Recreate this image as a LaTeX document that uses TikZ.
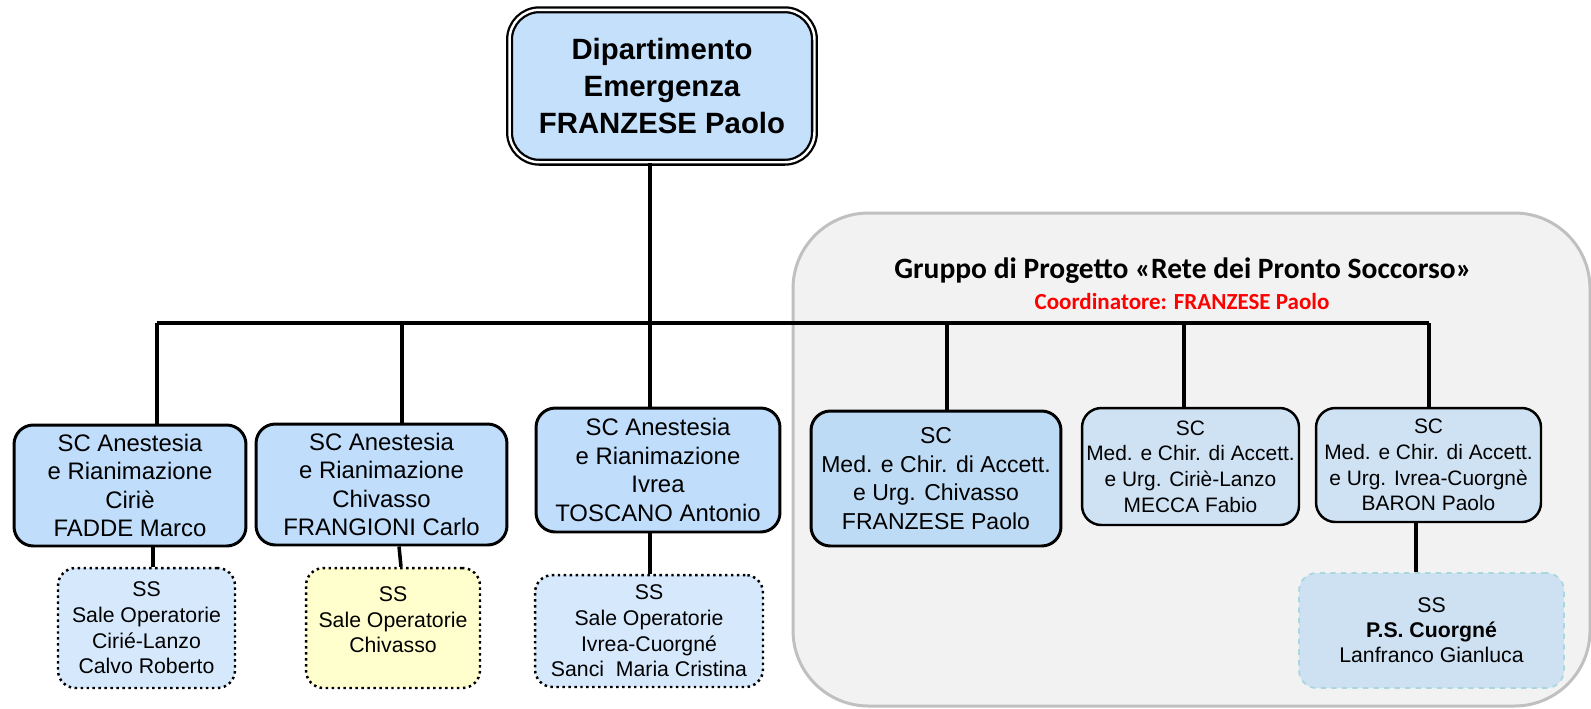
\documentclass[tikz,border=0pt]{standalone}
\usepackage{fontspec}
\setmainfont{Liberation Sans}
\newfontfamily\calibri{Carlito}
\usepackage{tikz}
\usetikzlibrary{positioning}

\definecolor{topblue}{RGB}{197,224,251}
\definecolor{scblue}{RGB}{192,222,252}
\definecolor{franzblue}{RGB}{189,219,245}
\definecolor{medblue}{RGB}{207,226,243}
\definecolor{ssblue}{RGB}{214,233,252}
\definecolor{ssyellow}{RGB}{255,255,206}
\definecolor{psblue}{RGB}{205,225,243}
\definecolor{psedge}{RGB}{168,216,220}
\definecolor{panelgrey}{RGB}{242,242,242}
\definecolor{paneledge}{RGB}{192,192,192}

\begin{document}
\begin{tikzpicture}[x=0.02cm,y=-0.02cm,
  conn/.style={line width=2pt},
  sc/.style={draw, line width=1.7pt, rounded corners=11pt, fill=scblue,
    align=center, inner sep=0pt, font=\fontsize{13.6}{16.2}\selectfont},
  med/.style={sc, line width=1.4pt, fill=medblue, font=\fontsize{11.9}{14.6}\selectfont},
  ss/.style={draw, dotted, line width=1.4pt, rounded corners=10pt, fill=ssblue,
    align=center, inner sep=0pt, font=\fontsize{12.1}{14.6}\selectfont}]

\useasboundingbox (0,0) rectangle (1591,708);

% group panel
\draw[line width=1.7pt, draw=paneledge, fill=panelgrey, rounded corners=43pt]
  (793,213) rectangle (1590,706);
\node (gruppo) at (1183,271) {\calibri\bfseries\fontsize{16.8}{19}\selectfont Gruppo di Progetto «Rete dei Pronto Soccorso»};
\node[text=red] (coord) at (1182,301) {\calibri\bfseries\fontsize{13.1}{15}\selectfont Coordinatore: FRANZESE Paolo};

% top
\node[draw, line width=1.3pt, double=white, double distance=1.4pt, rounded corners=17pt,
  fill=topblue, minimum width=6.1cm, minimum height=3.05cm, align=center,
  font=\fontsize{16.7}{21.3}\selectfont\bfseries] (dip) at (662,86)
  {Dipartimento\\Emergenza\\FRANZESE Paolo};

% SC
\node[sc, minimum width=4.64cm, minimum height=2.42cm] (cirie) at (130,485.5)
  {SC Anestesia\\e Rianimazione\\Ciriè\\FADDE Marco};
\node[sc, minimum width=5.02cm, minimum height=2.42cm] (chivasso) at (381.5,484.5)
  {SC Anestesia\\e Rianimazione\\Chivasso\\FRANGIONI Carlo};
\node[sc, minimum width=4.88cm, minimum height=2.48cm] (ivrea) at (658,470)
  {SC Anestesia\\e Rianimazione\\Ivrea\\TOSCANO Antonio};
\node[sc, fill=franzblue, minimum width=5cm, minimum height=2.7cm,
  font=\fontsize{13.1}{16.3}\selectfont] (franzese) at (936,478.5)
  {SC\\Med. e Chir. di Accett.\\e Urg. Chivasso\\FRANZESE Paolo};
\node[med, minimum width=4.34cm, minimum height=2.34cm] (mecca) at (1190.5,466.5)
  {SC\\Med. e Chir. di Accett.\\e Urg. Ciriè-Lanzo\\MECCA Fabio};
\node[med, minimum width=4.5cm, minimum height=2.28cm] (baron) at (1428.5,465)
  {SC\\Med. e Chir. di Accett.\\e Urg. Ivrea-Cuorgnè\\BARON Paolo};

% SS
\node[ss, minimum width=3.54cm, minimum height=2.4cm] (calvo) at (146.5,628)
  {SS\\Sale Operatorie\\Cirié-Lanzo\\Calvo Roberto};
\node[ss, fill=ssyellow, minimum width=3.48cm, minimum height=2.4cm] (chivss) at (393,628)
  {SS\\Sale Operatorie\\Chivasso\\[-5pt]~};
\node[ss, solid, dashed, line width=1pt, draw=psedge, fill=psblue,
  minimum width=5.3cm, minimum height=2.3cm, font=\fontsize{12.1}{14.2}\selectfont] (cuorgne) at (1431.5,630.5)
  {SS\\\textbf{P.S. Cuorgné}\\Lanfranco Gianluca};
\node[ss, minimum width=4.56cm, minimum height=2.24cm] (sanci) at (649,631)
  {SS\\Sale Operatorie\\Ivrea-Cuorgné\\Sanci~~Maria Cristina};

% connectors
\coordinate (j1) at (157,323);
\coordinate (j2) at (402,323);
\coordinate (j3) at (650,323);
\coordinate (j4) at (947,323);
\coordinate (j5) at (1184,323);
\coordinate (j6) at (1429,323);
\draw[conn] (dip.south -| j3) -- (j3);
\draw[conn] (j1) -- (j6);
\draw[conn] (j1) -- (cirie.north -| j1);
\draw[conn] (j2) -- (chivasso.north -| j2);
\draw[conn] (j3) -- (ivrea.north -| j3);
\draw[conn] (j4) -- (franzese.north -| j4);
\draw[conn] (j5) -- (mecca.north -| j5);
\draw[conn] (j6) -- (baron.north -| j6);

\draw[conn] (cirie.south -| 153,0) -- (calvo.north -| 153,0);
\draw[conn] (chivasso.south -| 399,0) -- (chivss.north -| 401,0);
\draw[conn] (ivrea.south -| 650,0) -- (sanci.north -| 650,0);
\draw[conn] (baron.south -| 1416,0) -- (cuorgne.north -| 1416,0);

\end{tikzpicture}
\end{document}
